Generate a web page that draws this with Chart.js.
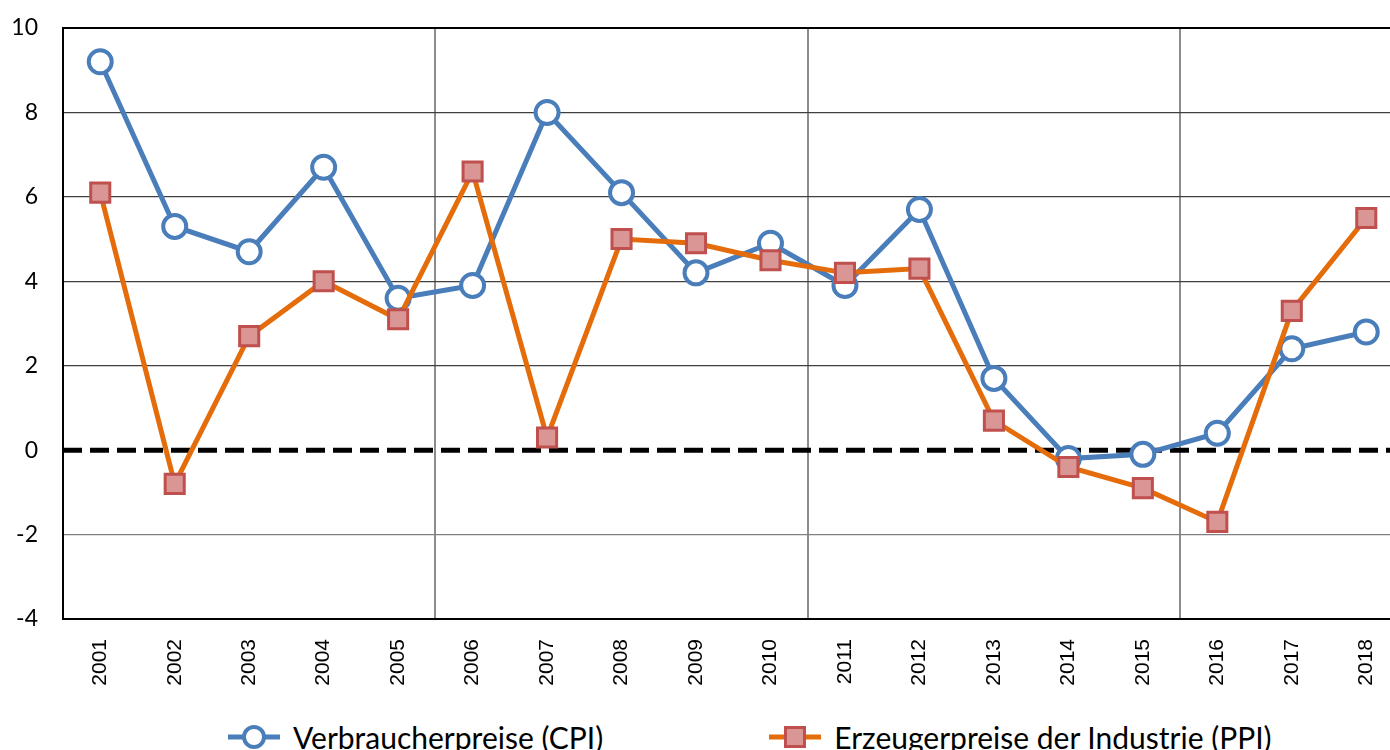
<!DOCTYPE html>
<html>
<head>
<meta charset="utf-8">
<script src="https://cdn.jsdelivr.net/npm/chart.js@4"></script>
<style>
    html, body { margin: 0; padding: 0; background: #fff; }
    #wrap { position: relative; width: 1390px; height: 750px; overflow: hidden; }
    #chart { position: absolute; left: 0; top: 0; }
    #legend { position: absolute; left: 228px; top: 722px; display: flex; gap: 166px;
              font-family: Lato, "Open Sans", sans-serif; font-size: 30px; line-height: 30px; color: #000; }
    .item { display: flex; align-items: center; gap: 13px; white-space: nowrap; }
</style>
</head>
<body>
<div id="wrap">
    <canvas id="chart" width="1420" height="705"></canvas>
    <div id="legend"></div>
</div>
<script>
// Jahre und Inflationsraten (%)
const years = ['2001', '2002', '2003', '2004', '2005', '2006', '2007', '2008', '2009',
               '2010', '2011', '2012', '2013', '2014', '2015', '2016', '2017', '2018'];
const cpi = [9.2, 5.3, 4.7, 6.7, 3.6, 3.9, 8.0, 6.1, 4.2, 4.9, 3.9, 5.7, 1.7, -0.2, -0.1, 0.4, 2.4, 2.8];
const ppi = [6.1, -0.8, 2.7, 4.0, 3.1, 6.6, 0.3, 5.0, 4.9, 4.5, 4.2, 4.3, 0.7, -0.4, -0.9, -1.7, 3.3, 5.5];
const seriesNames = ['Verbraucherpreise (CPI)', 'Erzeugerpreise der Industrie (PPI)'];

// y-axis range
const yMin = -4;
const yMax = 10;
const yStep = 2;
const zeroValue = 0;

// dashed line at zero, under the series lines
const zeroLine = {
    id: 'zeroLine',
    beforeDatasetsDraw(chart) {
        const ctx = chart.ctx;
        const area = chart.chartArea;
        const y = chart.scales.y.getPixelForValue(zeroValue);
        ctx.save();
        ctx.beginPath();
        ctx.setLineDash([19, 8]);
        ctx.lineWidth = 5;
        ctx.strokeStyle = '#000';
        ctx.moveTo(area.left, y);
        ctx.lineTo(area.right, y);
        ctx.stroke();
        ctx.restore();
    }
};

const chart = new Chart(document.getElementById('chart'), {
    type: 'line',
    data: {
        labels: years,
        datasets: [{
            label: seriesNames[0],
            data: cpi,
            order: 1,
            borderColor: '#4A7EBB',
            borderWidth: 5,
            tension: 0,
            pointStyle: 'circle',
            pointRadius: 11.5,
            pointBorderWidth: 4,
            pointBorderColor: '#4A7EBB',
            pointBackgroundColor: '#fff'
        }, {
            label: seriesNames[1],
            data: ppi,
            order: 0,
            borderColor: '#E46C0A',
            borderWidth: 5,
            tension: 0,
            pointStyle: 'rect',
            pointRadius: 13.5,
            pointBorderWidth: 3,
            pointBorderColor: '#C0504D',
            pointBackgroundColor: '#D99694'
        }]
    },
    options: {
        responsive: false,
        animation: false,
        events: [],
        layout: { padding: { top: 28, left: 0, right: 0, bottom: 0 } },
        plugins: {
            legend: { display: false },
            tooltip: { enabled: false }
        },
        scales: {
            x: {
                offset: true,
                grid: {
                    offset: true,
                    drawTicks: false,
                    lineWidth: 2,
                    color: function(c) {
                        return (c.index > 0 && c.index % 5 === 0) ? '#8c8c8c' : 'rgba(0,0,0,0)';
                    }
                },
                border: { color: '#000', width: 2 },
                ticks: {
                    minRotation: 90,
                    maxRotation: 90,
                    padding: 20,
                    color: '#000',
                    font: { family: '"Liberation Sans", Arial, sans-serif', size: 21 }
                },
                afterFit: function(scale) { scale.height = 86; }
            },
            y: {
                min: yMin,
                max: yMax,
                grid: {
                    drawTicks: false,
                    lineWidth: function(c) { return c.tick.value === yMax ? 2 : 1.2; },
                    color: function(c) {
                        const v = c.tick.value;
                        if (v === yMax) return '#000';
                        if (v === zeroValue) return 'rgba(0,0,0,0)';
                        if (v < 0) return '#808080';
                        return '#404040';
                    }
                },
                border: { color: '#000', width: 2 },
                ticks: {
                    stepSize: yStep,
                    padding: 25,
                    color: '#000',
                    font: { family: 'Lato, "Open Sans", sans-serif', size: 23 }
                },
                afterFit: function(scale) {
                    // tick padding should not push the plot down
                    scale.width = 63;
                    scale.paddingTop = 0;
                    scale.paddingBottom = 0;
                }
            }
        }
    },
    plugins: [zeroLine]
});

// legend built from the datasets
function markerSvg(ds) {
    let mark;
    if (ds.pointStyle === 'circle') {
        mark = '<circle cx="26" cy="15" r="10" fill="' + ds.pointBackgroundColor + '" stroke="' +
               ds.pointBorderColor + '" stroke-width="4"/>';
    } else {
        mark = '<rect x="16.5" y="5.5" width="19" height="19" fill="' + ds.pointBackgroundColor +
               '" stroke="' + ds.pointBorderColor + '" stroke-width="3"/>';
    }
    return '<svg width="52" height="30"><line x1="0" y1="15" x2="52" y2="15" stroke="' +
           ds.borderColor + '" stroke-width="5"/>' + mark + '</svg>';
}
const legendBox = document.getElementById('legend');
chart.data.datasets.forEach(function(ds) {
    const item = document.createElement('div');
    item.className = 'item';
    item.innerHTML = markerSvg(ds) + '<span>' + ds.label + '</span>';
    legendBox.appendChild(item);
});
</script>
</body>
</html>
